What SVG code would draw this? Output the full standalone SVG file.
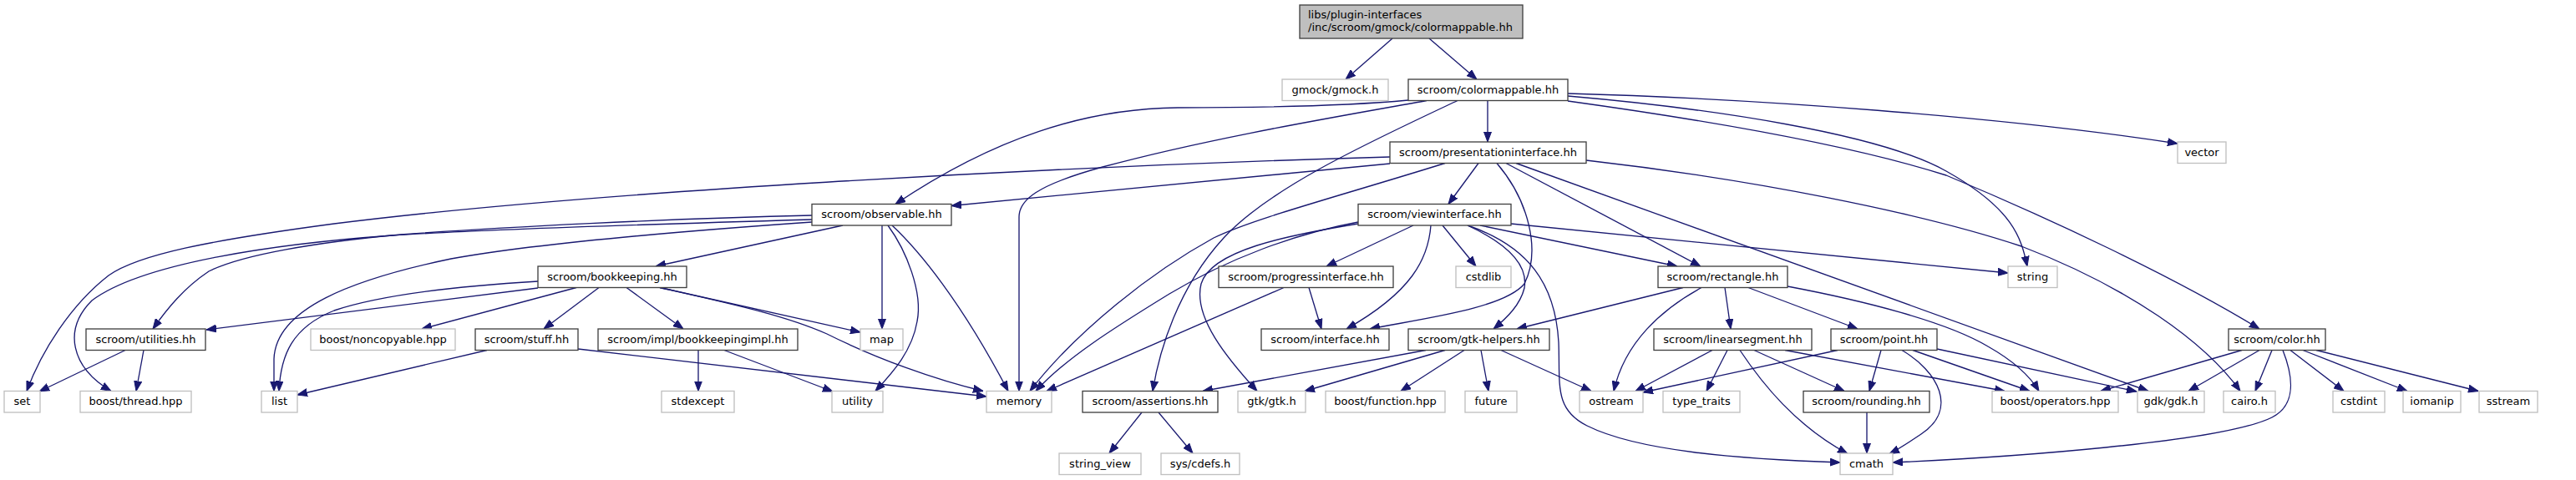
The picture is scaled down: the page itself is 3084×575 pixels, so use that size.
<svg xmlns="http://www.w3.org/2000/svg" width="3084" height="575" viewBox="0 0 3084 575">
<style>
rect{stroke-width:1.33}
.n{fill:#fff;stroke:#404040}
.x{fill:#fff;stroke:#bfbfbf}
.r{fill:#bfbfbf;stroke:#404040}
text{font-family:"DejaVu Sans","Liberation Sans",sans-serif;font-size:13px;fill:#000;text-anchor:middle}
.s{text-anchor:start}
#edges path{fill:none;stroke:#191970;stroke-width:1.33;marker-end:url(#a)}
</style>
<defs>
<marker id="a" markerWidth="12" markerHeight="10" refX="12" refY="5" orient="auto" markerUnits="userSpaceOnUse" viewBox="0 0 12 10"><path d="M0,0.5 L12,5 L0,9.5 z" fill="#191970" stroke="#191970" stroke-width="1"/></marker>
</defs>
<rect width="3084" height="575" fill="#fff"/>
<g id="edges">
<path d="M1667,46 L1611,95"/>
<path d="M1711,46 L1768,95"/>
<path d="M1781,120.5 L1781,170"/>
<path d="M1686,120 C1600,128 1480,129 1410,129 C1300,130 1190,165 1072,244.5"/>
<path d="M1708,120.5 C1600,140 1450,165 1320,200 C1240,222 1220,240 1220,260 L1220,468.5"/>
<path d="M1745,120.5 C1640,170 1520,225 1465,285 C1410,345 1388,420 1380,468.5"/>
<path d="M1877,115 C2050,130 2250,160 2330,205 C2410,250 2420,285 2427,319"/>
<path d="M1877,112 C2100,118 2400,140 2607,172"/>
<path d="M1877,121 C2050,145 2220,175 2330,210 C2450,260 2600,330 2705,394"/>
<path d="M1664,188 C1250,200 700,230 400,268 C250,288 165,305 130,330 C85,365 50,420 32,468.5"/>
<path d="M1664,196 L1139,246.5"/>
<path d="M1730,195.5 C1600,236 1500,262 1453,285 C1380,325 1290,395 1233,468.5"/>
<path d="M1770,195.5 L1734,244.5"/>
<path d="M1792,195.5 C1830,240 1845,300 1825,340 C1800,370 1700,382 1640,394"/>
<path d="M1803,195.5 L2036,319"/>
<path d="M1815,195.5 L2572,468.5"/>
<path d="M1899,192 C2100,215 2300,255 2420,295 C2550,345 2640,410 2682,468.5"/>
<path d="M1009,270 L785,319"/>
<path d="M972,258 C800,262 600,272 480,281 C380,290 290,305 250,325 C220,345 200,370 183,394"/>
<path d="M972,263 C800,268 560,276 470,282 C330,292 170,315 110,360 C75,395 85,440 133,468.5"/>
<path d="M972,266 C800,278 640,292 540,310 C420,335 330,370 328,430 L328,468.5"/>
<path d="M1056,270 L1056,394"/>
<path d="M1068,270 C1100,300 1150,360 1207,468.5"/>
<path d="M1063,270 C1085,300 1105,350 1098,385 C1092,420 1070,445 1048,468.5"/>
<path d="M690,344.5 L505,394"/>
<path d="M644,337 C560,342 460,352 400,372 C350,392 336,425 334,468.5"/>
<path d="M790,344.5 L1030,398"/>
<path d="M790,344.5 C880,365 940,378 990,400 C1050,430 1120,455 1177,468.5"/>
<path d="M717,344.5 L651,394"/>
<path d="M750,344.5 L818,394"/>
<path d="M644,345 L247,395"/>
<path d="M150,419.5 L47,469"/>
<path d="M172,419.5 L163,468.5"/>
<path d="M583,419.5 L356,473"/>
<path d="M692,418 L1181,475"/>
<path d="M836,419.5 L836,468.5"/>
<path d="M867,419.5 L997,469"/>
<path d="M1692,270 L1588,319"/>
<path d="M1727,270 L1767,319"/>
<path d="M1772,270 L2008,319"/>
<path d="M1809,268 L2404,327"/>
<path d="M1713,270 C1710,310 1690,350 1612,394"/>
<path d="M1757,270 C1800,290 1830,315 1825,345 C1820,365 1805,380 1788,394"/>
<path d="M1757,270 C1830,295 1862,340 1866,410 C1868,460 1860,490 1900,510 C1960,540 2080,550 2203,554"/>
<path d="M1626,268 C1540,282 1450,300 1438,340 C1428,380 1470,430 1505,468.5"/>
<path d="M1626,266 C1550,280 1470,310 1400,352 C1330,395 1275,430 1240,468.5"/>
<path d="M1567,344.5 L1582,394"/>
<path d="M1537,344.5 L1253,468.5"/>
<path d="M2015,344.5 L1816,394"/>
<path d="M2037,344.5 C1990,370 1945,410 1932,468.5"/>
<path d="M2065,344.5 L2072,394"/>
<path d="M2093,344.5 L2224,394"/>
<path d="M2140,343 C2230,360 2330,385 2380,415 C2410,432 2430,450 2441,468.5"/>
<path d="M1707,419.5 L1440,468.5"/>
<path d="M1730,419.5 L1562,468.5"/>
<path d="M1753,419.5 L1677,468.5"/>
<path d="M1773,419.5 L1782,468.5"/>
<path d="M1797,419.5 L1905,468.5"/>
<path d="M2050,419.5 L1958,468.5"/>
<path d="M2068,419.5 L2043,468.5"/>
<path d="M2083,419.5 C2110,460 2150,510 2212,543.5"/>
<path d="M2100,419.5 L2208,468.5"/>
<path d="M2137,419.5 L2400,468.5"/>
<path d="M2200,419.5 L1967,470"/>
<path d="M2252,419.5 L2238,468.5"/>
<path d="M2277,419.5 C2320,445 2345,490 2300,520 C2285,530 2275,537 2262,543.5"/>
<path d="M2290,419.5 L2430,468.5"/>
<path d="M2319,418 L2558,469"/>
<path d="M2235,494 L2235,543"/>
<path d="M2684,419.5 L2515,468.5"/>
<path d="M2705,419.5 L2620,468.5"/>
<path d="M2720,419.5 L2700,468.5"/>
<path d="M2733,419.5 C2745,450 2750,485 2720,500 C2660,530 2400,548 2266,554"/>
<path d="M2742,419.5 L2806,468.5"/>
<path d="M2757,419.5 L2882,468.5"/>
<path d="M2773,419.5 L2967,468.5"/>
<path d="M1367,494 L1328,543"/>
<path d="M1387,494 L1428,543"/>
</g>
<g id="root"><rect class="r" x="1556" y="6" width="267" height="40"/><text class="s" x="1566" y="21.5">libs/plugin-interfaces</text><text class="s" x="1566" y="36.5">/inc/scroom/gmock/colormappable.hh</text></g>
<g id="gmock"><rect class="x" x="1535" y="95" width="127" height="25.5"/><text x="1598.5" y="111.8">gmock/gmock.h</text></g>
<g id="colormappable"><rect class="n" x="1686" y="95" width="191" height="25.5"/><text x="1781.5" y="111.8">scroom/colormappable.hh</text></g>
<g id="presentationinterface"><rect class="n" x="1664" y="170" width="235" height="25.5"/><text x="1781.5" y="186.8">scroom/presentationinterface.hh</text></g>
<g id="vector"><rect class="x" x="2607" y="170" width="58" height="25.5"/><text x="2636" y="186.8">vector</text></g>
<g id="observable"><rect class="n" x="972" y="244.5" width="167" height="25.5"/><text x="1055.5" y="261.3">scroom/observable.hh</text></g>
<g id="viewinterface"><rect class="n" x="1626" y="244.5" width="183" height="25.5"/><text x="1717.5" y="261.3">scroom/viewinterface.hh</text></g>
<g id="bookkeeping"><rect class="n" x="644" y="319" width="178" height="25.5"/><text x="733" y="335.8">scroom/bookkeeping.hh</text></g>
<g id="progressinterface"><rect class="n" x="1459" y="319" width="209" height="25.5"/><text x="1563.5" y="335.8">scroom/progressinterface.hh</text></g>
<g id="cstdlib"><rect class="x" x="1743" y="319" width="66" height="25.5"/><text x="1776" y="335.8">cstdlib</text></g>
<g id="rectangle"><rect class="n" x="1985" y="319" width="155" height="25.5"/><text x="2062.5" y="335.8">scroom/rectangle.hh</text></g>
<g id="string"><rect class="x" x="2404" y="319" width="59" height="25.5"/><text x="2433.5" y="335.8">string</text></g>
<g id="utilities"><rect class="n" x="103" y="394" width="143" height="25.5"/><text x="174.5" y="410.8">scroom/utilities.hh</text></g>
<g id="noncopyable"><rect class="x" x="372" y="394" width="173" height="25.5"/><text x="458.5" y="410.8">boost/noncopyable.hpp</text></g>
<g id="stuff"><rect class="n" x="569" y="394" width="123" height="25.5"/><text x="630.5" y="410.8">scroom/stuff.hh</text></g>
<g id="bookkeepingimpl"><rect class="n" x="716" y="394" width="239" height="25.5"/><text x="835.5" y="410.8">scroom/impl/bookkeepingimpl.hh</text></g>
<g id="map"><rect class="x" x="1030" y="394" width="51" height="25.5"/><text x="1055.5" y="410.8">map</text></g>
<g id="interface"><rect class="n" x="1510" y="394" width="153" height="25.5"/><text x="1586.5" y="410.8">scroom/interface.hh</text></g>
<g id="gtkhelpers"><rect class="n" x="1686" y="394" width="169" height="25.5"/><text x="1770.5" y="410.8">scroom/gtk-helpers.hh</text></g>
<g id="linearsegment"><rect class="n" x="1980" y="394" width="189" height="25.5"/><text x="2074.5" y="410.8">scroom/linearsegment.hh</text></g>
<g id="point"><rect class="n" x="2192" y="394" width="127" height="25.5"/><text x="2255.5" y="410.8">scroom/point.hh</text></g>
<g id="color"><rect class="n" x="2668" y="394" width="116" height="25.5"/><text x="2726" y="410.8">scroom/color.hh</text></g>
<g id="set"><rect class="x" x="5" y="468.5" width="43" height="25.5"/><text x="26.5" y="485.3">set</text></g>
<g id="thread"><rect class="x" x="96" y="468.5" width="133" height="25.5"/><text x="162.5" y="485.3">boost/thread.hpp</text></g>
<g id="list"><rect class="x" x="313" y="468.5" width="43" height="25.5"/><text x="334.5" y="485.3">list</text></g>
<g id="stdexcept"><rect class="x" x="792" y="468.5" width="87" height="25.5"/><text x="835.5" y="485.3">stdexcept</text></g>
<g id="utility"><rect class="x" x="996" y="468.5" width="61" height="25.5"/><text x="1026.5" y="485.3">utility</text></g>
<g id="memory"><rect class="x" x="1181" y="468.5" width="78" height="25.5"/><text x="1220" y="485.3">memory</text></g>
<g id="assertions"><rect class="n" x="1296" y="468.5" width="162" height="25.5"/><text x="1377" y="485.3">scroom/assertions.hh</text></g>
<g id="gtkh"><rect class="x" x="1482" y="468.5" width="81" height="25.5"/><text x="1522.5" y="485.3">gtk/gtk.h</text></g>
<g id="function"><rect class="x" x="1587" y="468.5" width="143" height="25.5"/><text x="1658.5" y="485.3">boost/function.hpp</text></g>
<g id="future"><rect class="x" x="1754" y="468.5" width="62" height="25.5"/><text x="1785" y="485.3">future</text></g>
<g id="ostream"><rect class="x" x="1891" y="468.5" width="76" height="25.5"/><text x="1929" y="485.3">ostream</text></g>
<g id="type_traits"><rect class="x" x="1991" y="468.5" width="92" height="25.5"/><text x="2037" y="485.3">type_traits</text></g>
<g id="rounding"><rect class="n" x="2159" y="468.5" width="151" height="25.5"/><text x="2234.5" y="485.3">scroom/rounding.hh</text></g>
<g id="operators"><rect class="x" x="2385" y="468.5" width="151" height="25.5"/><text x="2460.5" y="485.3">boost/operators.hpp</text></g>
<g id="gdk"><rect class="x" x="2559" y="468.5" width="80" height="25.5"/><text x="2599" y="485.3">gdk/gdk.h</text></g>
<g id="cairo"><rect class="x" x="2662" y="468.5" width="62" height="25.5"/><text x="2693" y="485.3">cairo.h</text></g>
<g id="cstdint"><rect class="x" x="2793" y="468.5" width="62" height="25.5"/><text x="2824" y="485.3">cstdint</text></g>
<g id="iomanip"><rect class="x" x="2877" y="468.5" width="69" height="25.5"/><text x="2911.5" y="485.3">iomanip</text></g>
<g id="sstream"><rect class="x" x="2968" y="468.5" width="70" height="25.5"/><text x="3003" y="485.3">sstream</text></g>
<g id="string_view"><rect class="x" x="1268" y="543" width="98" height="25.5"/><text x="1317" y="559.8">string_view</text></g>
<g id="cdefs"><rect class="x" x="1390" y="543" width="94" height="25.5"/><text x="1437" y="559.8">sys/cdefs.h</text></g>
<g id="cmath"><rect class="x" x="2203" y="543" width="63" height="25.5"/><text x="2234.5" y="559.8">cmath</text></g>
</svg>
